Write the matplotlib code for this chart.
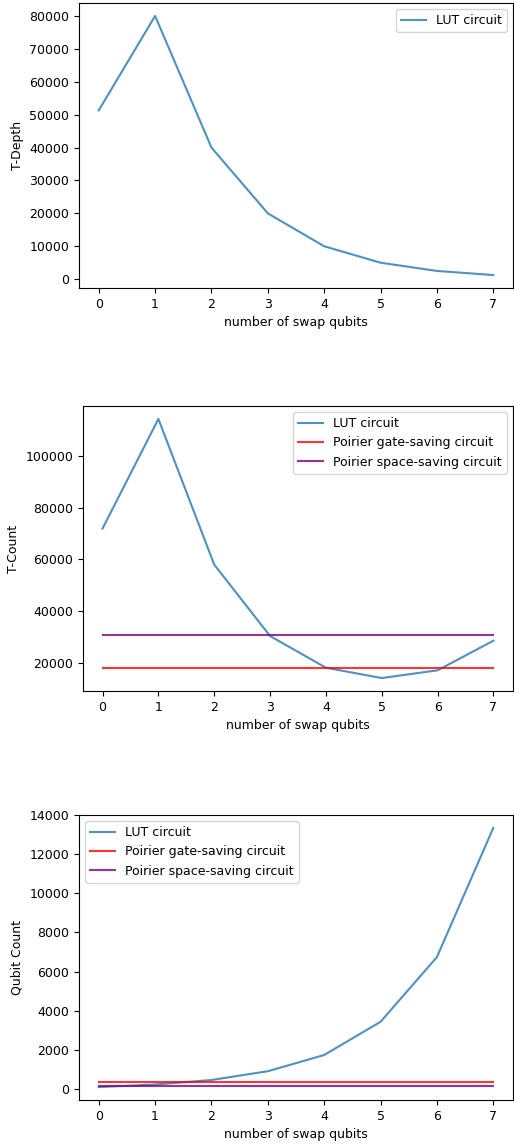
import numpy as np
import matplotlib
matplotlib.use('Agg')
import matplotlib.pyplot as plt

# number of swap qubits
swap_qubits = [0, 1, 2, 3, 4, 5, 6, 7]

# T-Depth of LUT circuit
lut_t_depth = [51300, 80000, 40000, 20000, 10000, 5000, 2500, 1250]

# T-Count
lut_t_count = [72000, 114500, 58000, 30300, 18000, 14000, 17000, 28500]
gate_saving_t_count = 18000
space_saving_t_count = 30800

# Qubit count
lut_qubits = [90, 220, 450, 900, 1730, 3430, 6740, 13350]
gate_saving_qubits = 340
space_saving_qubits = 140

W, H = 514, 1146
plt.rcParams['font.size'] = 9
fig = plt.figure(figsize=(W / 100, H / 100), dpi=100)

def add_ax(left, top, right, bottom):
    return fig.add_axes([left / W, 1 - bottom / H, (right - left) / W, (bottom - top) / H])

blue = 'tab:blue'

# T-Depth
ax1 = add_ax(79, 3, 513, 288)
ax1.plot(swap_qubits, lut_t_depth, color=blue, alpha=0.8, label='LUT circuit')
ax1.set_xlabel('number of swap qubits')
ax1.set_ylabel('T-Depth')
ax1.legend(loc='upper right')

# T-Count
ax2 = add_ax(83, 406, 513, 691)
ax2.plot(swap_qubits, lut_t_count, color=blue, alpha=0.8, label='LUT circuit')
ax2.plot(swap_qubits, [gate_saving_t_count] * len(swap_qubits), color='red', alpha=0.8,
         label='Poirier gate-saving circuit')
ax2.plot(swap_qubits, [space_saving_t_count] * len(swap_qubits), color='purple', alpha=0.8,
         label='Poirier space-saving circuit')
ax2.set_xlabel('number of swap qubits')
ax2.set_ylabel('T-Count')
ax2.legend(loc='upper right')

# Qubit Count
ax3 = add_ax(79, 815, 513, 1100)
ax3.plot(swap_qubits, lut_qubits, color=blue, alpha=0.8, label='LUT circuit')
ax3.plot(swap_qubits, [gate_saving_qubits] * len(swap_qubits), color='red', alpha=0.8,
         label='Poirier gate-saving circuit')
ax3.plot(swap_qubits, [space_saving_qubits] * len(swap_qubits), color='purple', alpha=0.8,
         label='Poirier space-saving circuit')
ax3.set_xlabel('number of swap qubits')
ax3.set_ylabel('Qubit Count')
ax3.legend(loc='upper left')

fig.savefig('out.png', dpi=100)
